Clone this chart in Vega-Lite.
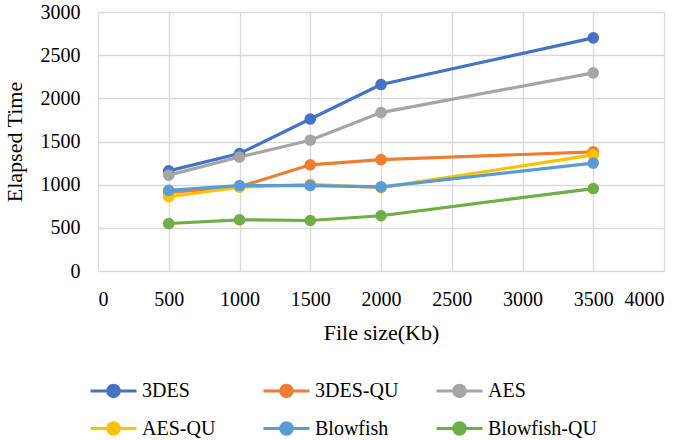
{
  "$schema": "https://vega.github.io/schema/vega-lite/v6.json",
  "width": 566,
  "height": 259,
  "autosize": {"type": "none"},
  "padding": {"left": 98, "top": 12, "right": 21, "bottom": 169},
  "background": "white",
  "config": {
    "font": "Liberation Serif",
    "view": {"stroke": null},
    "axis": {"labelFont": "Liberation Serif", "titleFont": "Liberation Serif", "titleFontWeight": "normal", "labelColor": "#000", "titleColor": "#000", "gridColor": "#d9d9d9", "gridWidth": 1.3, "domain": false, "ticks": false},
    "legend": {"labelFont": "Liberation Serif"}
  },
  "data": {"values": [
    {"alg": "3DES", "size": 500, "time": 1160},
    {"alg": "3DES", "size": 1000, "time": 1360},
    {"alg": "3DES", "size": 1500, "time": 1760},
    {"alg": "3DES", "size": 2000, "time": 2160},
    {"alg": "3DES", "size": 3500, "time": 2700},
    {"alg": "3DES-QU", "size": 500, "time": 910},
    {"alg": "3DES-QU", "size": 1000, "time": 975},
    {"alg": "3DES-QU", "size": 1500, "time": 1230},
    {"alg": "3DES-QU", "size": 2000, "time": 1290},
    {"alg": "3DES-QU", "size": 3500, "time": 1380},
    {"alg": "AES", "size": 500, "time": 1110},
    {"alg": "AES", "size": 1000, "time": 1320},
    {"alg": "AES", "size": 1500, "time": 1515},
    {"alg": "AES", "size": 2000, "time": 1835},
    {"alg": "AES", "size": 3500, "time": 2295},
    {"alg": "AES-QU", "size": 500, "time": 860},
    {"alg": "AES-QU", "size": 1000, "time": 970},
    {"alg": "AES-QU", "size": 1500, "time": 1005},
    {"alg": "AES-QU", "size": 2000, "time": 965},
    {"alg": "AES-QU", "size": 3500, "time": 1345},
    {"alg": "Blowfish", "size": 500, "time": 935},
    {"alg": "Blowfish", "size": 1000, "time": 990},
    {"alg": "Blowfish", "size": 1500, "time": 990},
    {"alg": "Blowfish", "size": 2000, "time": 975},
    {"alg": "Blowfish", "size": 3500, "time": 1250},
    {"alg": "Blowfish-QU", "size": 500, "time": 550},
    {"alg": "Blowfish-QU", "size": 1000, "time": 593},
    {"alg": "Blowfish-QU", "size": 1500, "time": 585},
    {"alg": "Blowfish-QU", "size": 2000, "time": 640},
    {"alg": "Blowfish-QU", "size": 3500, "time": 955}
  ]},
  "encoding": {
    "x": {"field": "size", "type": "quantitative", "title": "File size(Kb)",
      "scale": {"domain": [0, 4000], "nice": false},
      "axis": {"values": [0, 500, 1000, 1500, 2000, 2500, 3000, 3500, 4000], "format": "d", "labelFont": "Liberation Serif", "titleFont": "Liberation Serif", "labelFontSize": 20, "titleFontSize": 22, "labelPadding": 18, "titlePadding": 13}},
    "y": {"field": "time", "type": "quantitative", "title": "Elapsed Time",
      "scale": {"domain": [0, 3000], "nice": false},
      "axis": {"values": [0, 500, 1000, 1500, 2000, 2500, 3000], "format": "d", "labelFont": "Liberation Serif", "titleFont": "Liberation Serif", "labelFontSize": 20, "titleFontSize": 22, "labelPadding": 18, "titlePadding": 14}},
    "color": {"field": "alg", "type": "nominal", "title": null,
      "scale": {"domain": ["3DES", "3DES-QU", "AES", "AES-QU", "Blowfish", "Blowfish-QU"],
        "range": ["#4472C4", "#ED7D31", "#A5A5A5", "#FFC000", "#5B9BD5", "#70AD47"]},
      "legend": {"orient": "none", "direction": "horizontal", "legendX": -9, "legendY": 354, "columns": 3, "gridAlign": "all", "columnPadding": 6, "rowPadding": 1,
        "labelFont": "Liberation Serif", "labelFontSize": 20, "labelOffset": 4, "labelColor": "#000",
        "symbolType": "M-1,0L1,0M0.25,0A0.25,0.25 0 1,1 -0.25,0A0.25,0.25 0 1,1 0.25,0Z",
        "symbolSize": 2116, "symbolStrokeWidth": 3, "symbolOpacity": 1,
        "encode": {"symbols": {"update": {"fill": {"field": "value", "scale": "color"}, "stroke": {"field": "value", "scale": "color"}}}}}}
  },
  "layer": [
    {"mark": {"type": "line", "strokeWidth": 3.2}},
    {"mark": {"type": "point", "filled": true, "size": 135, "opacity": 1}}
  ]
}
